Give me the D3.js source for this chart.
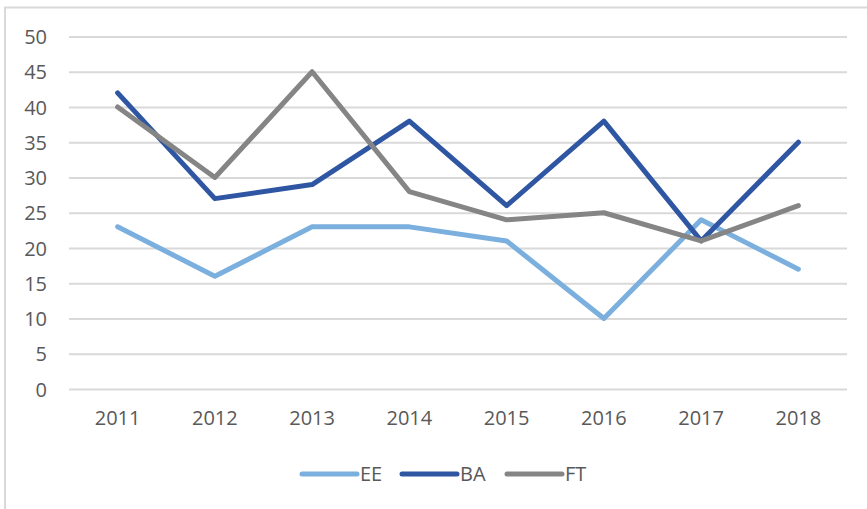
<!DOCTYPE html>
<html>
<head>
<meta charset="utf-8">
<script src="https://cdn.jsdelivr.net/npm/d3@7"></script>
<style>
  html, body { margin: 0; padding: 0; background: #fff; }
  svg { display: block; }
  text { font-family: "Open Sans", "Liberation Sans", sans-serif; fill: #595959; }
</style>
</head>
<body>
<svg id="chart" width="867" height="509"></svg>
<script>
const categories = ["2011", "2012", "2013", "2014", "2015", "2016", "2017", "2018"];
const seriesNames = ["EE", "BA", "FT"];
const eeValues = [23, 16, 23, 23, 21, 10, 24, 17];
const baValues = [42, 27, 29, 38, 26, 38, 21, 35];
const ftValues = [40, 30, 45, 28, 24, 25, 21, 26];
const yTicks = [0, 5, 10, 15, 20, 25, 30, 35, 40, 45, 50];
const seriesColors = ["#7aafde", "#2e56a2", "#858585"];

const series = [
  { name: seriesNames[0], values: eeValues, color: seriesColors[0] },
  { name: seriesNames[1], values: baValues, color: seriesColors[1] },
  { name: seriesNames[2], values: ftValues, color: seriesColors[2] }
];

const svg = d3.select("#chart");

// outer chart border (extends past the picture on right/bottom)
svg.append("rect")
  .attr("x", 5).attr("y", 7.5)
  .attr("width", 900).attr("height", 600)
  .attr("fill", "none")
  .attr("stroke", "#d9d9d9")
  .attr("stroke-width", 2);

const x = d3.scaleBand().domain(categories).range([69, 847]);
const y = d3.scaleLinear().domain([0, 50]).range([389, 36.5]);

// gridlines
const yAxis = d3.axisLeft(y).tickValues(yTicks).tickSize(-(847 - 69)).tickPadding(22);
const gy = svg.append("g").attr("transform", "translate(69,0)").call(yAxis);
gy.select(".domain").remove();
gy.selectAll(".tick line").attr("stroke", "#d9d9d9").attr("stroke-width", 2);
gy.selectAll(".tick text").attr("font-size", "20px").attr("dy", "0.35em").style("fill", "#595959");

// x axis labels
const xAxis = d3.axisBottom(x).tickSize(0).tickPadding(22);
const gx = svg.append("g").attr("transform", "translate(0,389)").call(xAxis);
gx.select(".domain").remove();
gx.selectAll(".tick text").attr("font-size", "20px").style("fill", "#595959");

// lines
const line = d3.line()
  .x((d, i) => x(categories[i]) + x.bandwidth() / 2)
  .y(d => y(d));

svg.append("g").selectAll("path")
  .data(series)
  .join("path")
  .attr("d", d => line(d.values))
  .attr("fill", "none")
  .attr("stroke", d => d.color)
  .attr("stroke-width", 5)
  .attr("stroke-linejoin", "round")
  .attr("stroke-linecap", "round");

// legend
const legendX = [302, 402, 507];
const lg = svg.append("g");
series.forEach((s, i) => {
  const g = lg.append("g").attr("transform", `translate(${legendX[i]},474)`);
  g.append("line").attr("x1", 0).attr("x2", 55).attr("y1", 0).attr("y2", 0)
    .attr("stroke", s.color).attr("stroke-width", 5).attr("stroke-linecap", "round");
  g.append("text").attr("x", 58).attr("y", 0).attr("dy", "0.35em")
    .attr("font-size", "20px").text(s.name);
});
</script>
</body>
</html>
